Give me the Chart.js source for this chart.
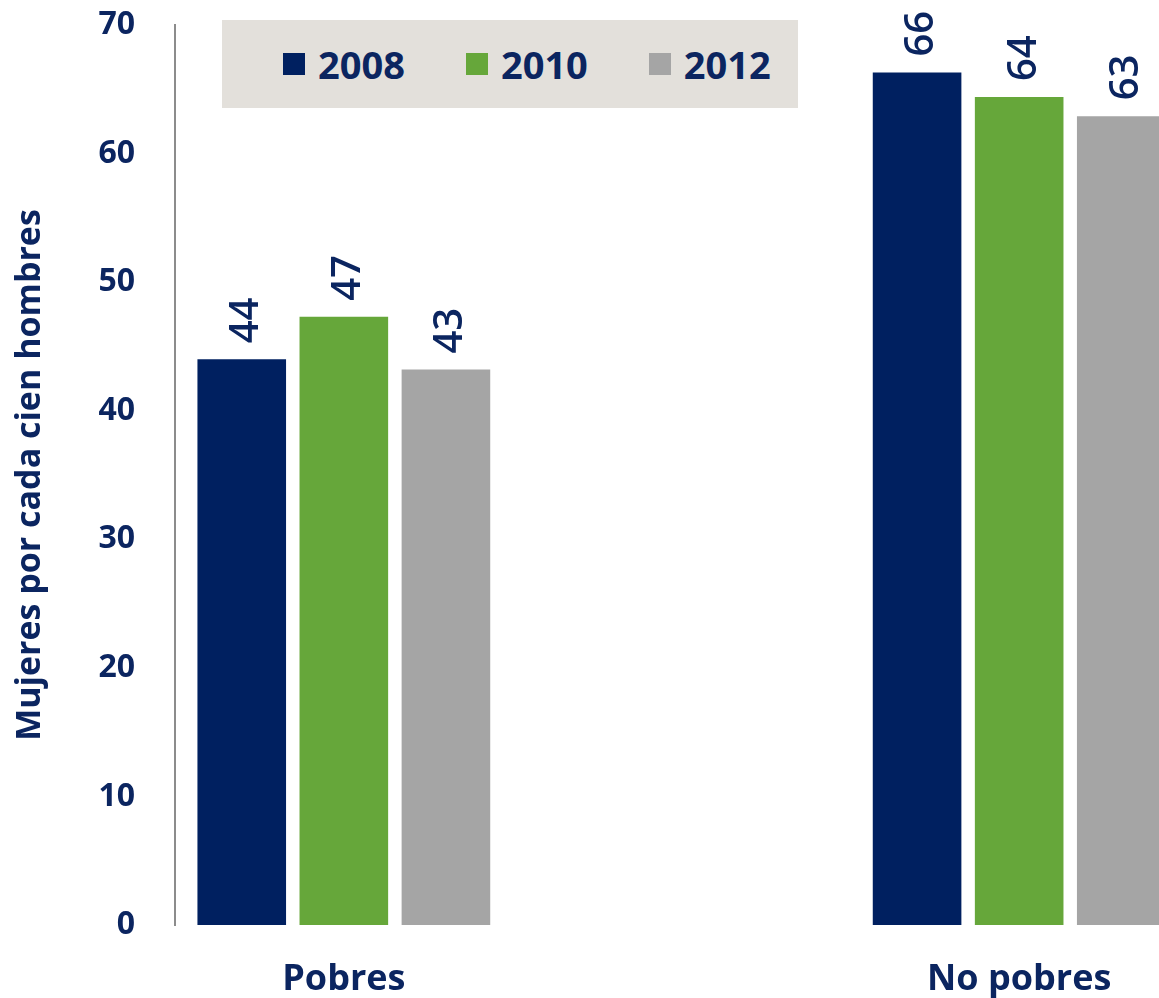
<!DOCTYPE html>
<html>
<head>
<meta charset="utf-8">
<script src="https://cdn.jsdelivr.net/npm/chart.js@4.4.1/dist/chart.umd.min.js"></script>
<style>
  html, body { margin: 0; padding: 0; background: #fff; overflow: hidden; }
  #wrap { position: relative; width: 1188px; height: 998px; }
  #legend {
    position: absolute; left: 222px; top: 20px; width: 576px; height: 88px;
    background: #e3e0db; display: flex; align-items: center;
    padding-left: 61px; box-sizing: border-box; gap: 61px;
    font-family: "Open Sans", sans-serif; font-weight: bold; font-size: 38px; color: #0b2560;
  }
  #legend .item { display: flex; align-items: center; gap: 13px; }
  #legend .sw { width: 22px; height: 22px; }
</style>
</head>
<body>
<div id="wrap">
  <canvas id="chart"></canvas>
  <div id="legend"></div>
</div>
<script>
const categories = ['Pobres', 'No pobres'];
const years = ['2008', '2010', '2012'];
const values2008 = [44.0, 66.3];
const values2010 = [47.3, 64.4];
const values2012 = [43.2, 62.9];
const yTicks = [0, 10, 20, 30, 40, 50, 60, 70];

const navy = '#0b2560';
const colors = ['#002060', '#66a73a', '#a5a5a5'];

// a blank slot between the two groups keeps them apart like in the original
const labels = [categories[0], '', categories[1]];
const spread = arr => [arr[0], null, arr[1]];

const datasets = [values2008, values2010, values2012].map((vals, i) => ({
  label: years[i],
  data: spread(vals),
  backgroundColor: colors[i],
  categoryPercentage: 0.907,
  barPercentage: 0.868
}));

const valueLabels = {
  id: 'valueLabels',
  afterDatasetsDraw(chart) {
    const ctx = chart.ctx;
    ctx.save();
    ctx.fillStyle = navy;
    ctx.font = '600 40px "Open Sans"';
    ctx.textAlign = 'left';
    ctx.textBaseline = 'middle';
    chart.data.datasets.forEach((ds, i) => {
      chart.getDatasetMeta(i).data.forEach((bar, j) => {
        const v = ds.data[j];
        if (v == null) return;
        ctx.save();
        ctx.translate(bar.x + 5, bar.y - 16);
        ctx.rotate(-Math.PI / 2);
        ctx.fillText(String(Math.round(v)), 0, 0);
        ctx.restore();
      });
    });
    ctx.restore();
  }
};

const chart = new Chart(document.getElementById('chart'), {
  type: 'bar',
  data: { labels: labels, datasets: datasets },
  options: {
    responsive: true,
    maintainAspectRatio: false,
    animation: false,
    layout: { padding: { top: 25, left: 0, right: 0, bottom: 0 } },
    plugins: {
      legend: { display: false },
      tooltip: { enabled: false }
    },
    scales: {
      x: {
        afterFit(scale) { scale.height = 73; },
        grid: { display: false, drawTicks: false },
        border: { display: false },
        ticks: {
          color: navy,
          autoSkip: false,
          maxRotation: 0,
          padding: 37,
          font: { family: 'Open Sans', weight: 'bold', size: 36, lineHeight: 1 }
        }
      },
      y: {
        min: 0,
        max: 70,
        afterFit(scale) {
          scale.width = 175;
          scale.paddingTop = 0;
          scale.paddingBottom = 0;
        },
        afterBuildTicks(scale) { scale.ticks = yTicks.map(v => ({ value: v })); },
        grid: { display: false, drawTicks: false },
        border: { display: true, color: '#8c8c8c', width: 2 },
        ticks: {
          color: navy,
          padding: 40,
          font: { family: 'Open Sans', weight: 'bold', size: 32 }
        },
        title: {
          display: true,
          text: 'Mujeres por cada cien hombres',
          color: navy,
          padding: { top: 10, bottom: 0 },
          font: { family: 'Open Sans', weight: 'bold', size: 34 }
        }
      }
    }
  },
  plugins: [valueLabels]
});

const legend = document.getElementById('legend');
chart.data.datasets.forEach(ds => {
  const item = document.createElement('div');
  item.className = 'item';
  const sw = document.createElement('span');
  sw.className = 'sw';
  sw.style.background = ds.backgroundColor;
  const txt = document.createElement('span');
  txt.textContent = ds.label;
  item.appendChild(sw);
  item.appendChild(txt);
  legend.appendChild(item);
});
</script>
</body>
</html>
